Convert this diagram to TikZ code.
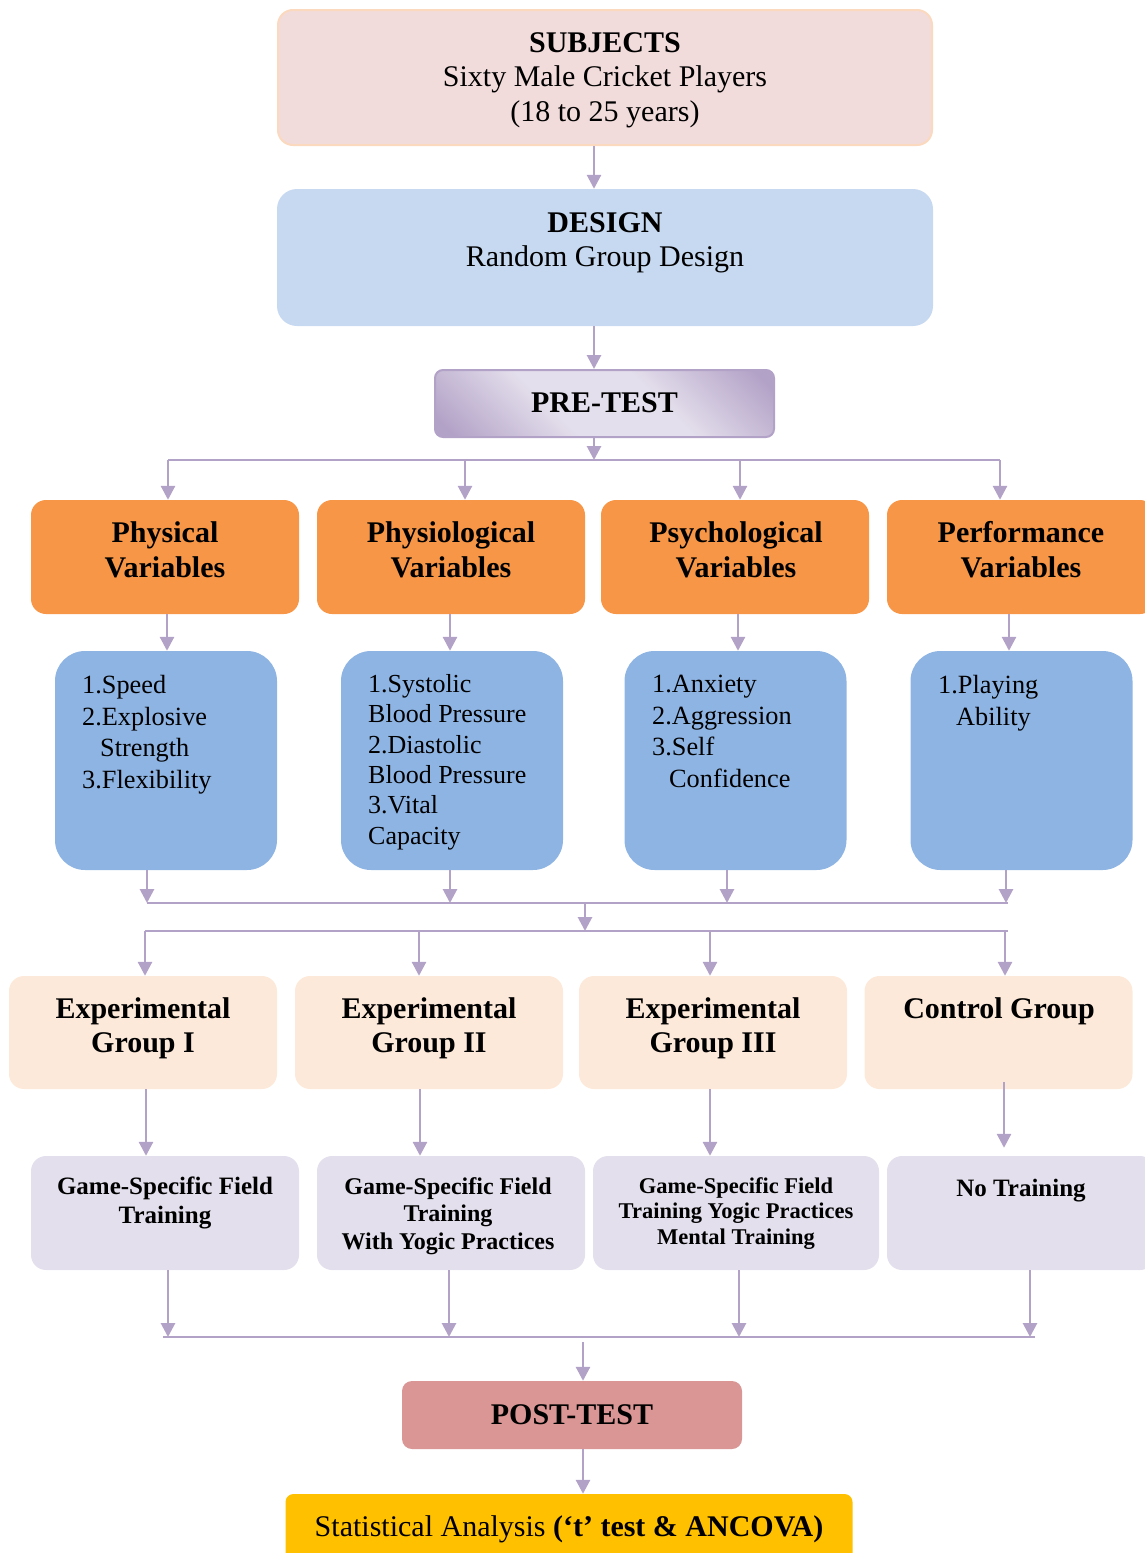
\documentclass[tikz,border=0pt]{standalone}
\usepackage{fontspec}
\setmainfont{Liberation Serif}
\usetikzlibrary{arrows.meta,calc}
\definecolor{lav}{HTML}{B3A2C7}
\definecolor{subjfill}{HTML}{F2DCDB}
\definecolor{subjborder}{HTML}{FBD9BE}
\definecolor{desfill}{HTML}{C6D9F1}
\definecolor{plight}{HTML}{E4DFEC}
\definecolor{pdark}{HTML}{B3A2C7}
\definecolor{orng}{HTML}{F79646}
\definecolor{blu}{HTML}{8EB4E3}
\definecolor{pch}{HTML}{FDE9D9}
\definecolor{lilac}{HTML}{E4DFEC}
\definecolor{rose}{HTML}{D99694}
\definecolor{gold}{HTML}{FFC000}
\pgfdeclarehorizontalshading{preshade}{100bp}{color(0bp)=(pdark); color(18bp)=(pdark); color(40bp)=(plight); color(60bp)=(plight); color(82bp)=(pdark); color(100bp)=(pdark)}
\begin{document}
\begin{tikzpicture}[x=1pt,y=-1pt,
  box/.style={rectangle, rounded corners=15pt, inner sep=0pt, draw=none},
  obox/.style={box, fill=orng, minimum width=268pt, minimum height=114pt},
  bbox/.style={box, rounded corners=30pt, fill=blu, minimum width=222pt, minimum height=219pt},
  pbox/.style={box, fill=pch, minimum width=268pt, minimum height=113pt},
  qbox/.style={box, fill=lilac, minimum height=114pt},
  txt/.style={anchor=north, inner sep=0pt, align=center},
  ltxt/.style={anchor=north west, inner sep=0pt, align=left},
  big/.style={font=\fontsize{30}{34.5}\selectfont},
  bigb/.style={font=\fontsize{30}{35}\selectfont\bfseries},
  med/.style={font=\fontsize{26.3}{31.6}\selectfont},
  ln/.style={draw=lav, line width=2.8pt},
  arr/.style={draw=lav, line width=2.8pt, -{Triangle[width=14pt,length=14pt]}}
]
\useasboundingbox (0,0) rectangle (1144,1553);

% top
\node[box, fill=subjfill, draw=subjborder, line width=2pt, minimum width=654pt, minimum height=135pt] (subj) at (605,77.5) {};
\node[txt, big] (subjT) at (605,32) {\textbf{SUBJECTS}\\Sixty Male Cricket Players\\(18 to 25 years)};
\node[box, rounded corners=20pt, fill=desfill, minimum width=656pt, minimum height=137pt] (des) at (605,257.5) {};
\node[txt, big] (desT) at (605,212) {\textbf{DESIGN}\\Random Group Design};
\node[box, rounded corners=8pt, draw=lav, line width=2pt, shade, shading=preshade, shading angle=45, minimum width=339pt, minimum height=67pt, font=\fontsize{30}{36}\selectfont\bfseries] (pre) at (604.5,403.5) {\raisebox{1.5pt}{PRE-TEST}};

% orange
\node[obox] (o1) at (165,557) {};
\node[obox] (o2) at (451,557) {};
\node[obox] (o3) at (735,557) {};
\node[obox] (o4) at (1021,557) {};
\node[txt, bigb] (o1T) at (165,521) {Physical\\Variables};
\node[txt, bigb] (o2T) at (451,521) {Physiological\\Variables};
\node[txt, bigb] (o3T) at (736,521) {Psychological\\Variables};
\node[txt, bigb] (o4T) at (1021,521) {Performance\\Variables};

% blue
\node[bbox] (b1) at (166,760.5) {};
\node[bbox] (b2) at (452,760.5) {};
\node[bbox] (b3) at (735.5,760.5) {};
\node[bbox] (b4) at (1021.5,760.5) {};
\node[ltxt, med] (b1T) at (82,675) {1.Speed\\2.Explosive\\\hspace*{18pt}Strength\\3.Flexibility};
\node[ltxt, font=\fontsize{26}{30.4}\selectfont] (b2T) at (368,674) {1.Systolic\\Blood Pressure\\2.Diastolic\\Blood Pressure\\3.Vital\\Capacity};
\node[ltxt, med] (b3T) at (652,675) {1.Anxiety\\2.Aggression\\3.Self\\\hspace*{17pt}Confidence};
\node[ltxt, med] (b4T) at (938,675) {1.Playing\\\hspace*{18pt}Ability};

% peach
\node[pbox] (p1) at (143,1032.5) {};
\node[pbox] (p2) at (429,1032.5) {};
\node[pbox] (p3) at (713,1032.5) {};
\node[pbox] (p4) at (998.5,1032.5) {};
\node[txt, font=\fontsize{30}{34}\selectfont\bfseries] (p1T) at (143,997) {Experimental\\Group I};
\node[txt, font=\fontsize{30}{34}\selectfont\bfseries] (p2T) at (429,997) {Experimental\\Group II};
\node[txt, font=\fontsize{30}{34}\selectfont\bfseries] (p3T) at (713,997) {Experimental\\Group III};
\node[txt, font=\fontsize{30}{34}\selectfont\bfseries] (p4T) at (999,997) {Control Group};

% lilac
\node[qbox, minimum width=268pt] (q1) at (165,1213) {};
\node[qbox, minimum width=268pt] (q2) at (451,1213) {};
\node[qbox, minimum width=286pt] (q3) at (736,1213) {};
\node[qbox, minimum width=268pt] (q4) at (1021,1213) {};
\node[txt, font=\fontsize{25}{29}\selectfont\bfseries] (q1T) at (165,1177) {Game-Specific Field\\Training};
\node[txt, font=\fontsize{24}{27.5}\selectfont\bfseries] (q2T) at (448,1177) {Game-Specific Field\\Training\\With Yogic Practices};
\node[txt, font=\fontsize{22.5}{25.5}\selectfont\bfseries] (q3T) at (736,1177) {Game-Specific Field\\Training Yogic Practices\\Mental Training};
\node[txt, font=\fontsize{25}{29}\selectfont\bfseries] (q4T) at (1021,1179) {No Training};

% bottom
\node[box, rounded corners=10pt, fill=rose, minimum width=340pt, minimum height=68pt, font=\fontsize{30}{36}\selectfont\bfseries] (post) at (572,1415) {POST-TEST};
\node[box, rounded corners=8pt, fill=gold, minimum width=567pt, minimum height=70pt, font=\fontsize{30}{36}\selectfont] (stat) at (569,1529) {Statistical Analysis \textbf{(`t' test \& ANCOVA)}};

% connectors top
\draw[arr] ($(subj.south)+(-11,0)$) -- ($(des.north)+(-11,0)$);
\draw[arr] ($(des.south)+(-11,0)$) -- ($(pre.north)+(-10.5,0)$);
\coordinate (bus1) at (594,460);
\coordinate (t1) at (168,460);
\coordinate (t2) at (465,460);
\coordinate (t3) at (740,460);
\coordinate (t4) at (1000,460);
\draw[arr] ($(pre.south)+(-10.5,0)$) -- (bus1);
\draw[ln] (t1) -- (t4);
\draw[arr] (t1) -- ($(o1.north)+(3,0)$);
\draw[arr] (t2) -- ($(o2.north)+(14,0)$);
\draw[arr] (t3) -- ($(o3.north)+(5,0)$);
\draw[arr] (t4) -- ($(o4.north)+(-21,0)$);

% orange to blue
\draw[arr] ($(o1.south)+(2,0)$) -- ($(b1.north)+(1,0)$);
\draw[arr] ($(o2.south)+(-1,0)$) -- ($(b2.north)+(-2,0)$);
\draw[arr] ($(o3.south)+(3,0)$) -- ($(b3.north)+(2.5,0)$);
\draw[arr] ($(o4.south)+(-12,0)$) -- ($(b4.north)+(-12.5,0)$);

% blue to bus2
\coordinate (c1) at (147,903);
\coordinate (c2) at (450,903);
\coordinate (c3) at (727,903);
\coordinate (c4) at (1006,903);
\coordinate (c5) at (1008,903);
\coordinate (m2) at (585,903);
\draw[arr] ($(b1.south)+(-19,0)$) -- (c1);
\draw[arr] ($(b2.south)+(-2,0)$) -- (c2);
\draw[arr] ($(b3.south)+(-8.5,0)$) -- (c3);
\draw[arr] ($(b4.south)+(-15.5,0)$) -- (c4);
\draw[ln] (c1) -- (c5);

% bus3
\coordinate (m3) at (585,931);
\coordinate (d1) at (145,931);
\coordinate (d2) at (419,931);
\coordinate (d3) at (710,931);
\coordinate (d4) at (1005,931);
\coordinate (d5) at (1008,931);
\draw[arr] (m2) -- (m3);
\draw[ln] (d1) -- (d5);
\draw[arr] (d1) -- ($(p1.north)+(2,0)$);
\draw[arr] (d2) -- ($(p2.north)+(-10,0)$);
\draw[arr] (d3) -- ($(p3.north)+(-3,0)$);
\draw[arr] (d4) -- ($(p4.north)+(6.5,0)$);

% peach to lilac
\draw[arr] ($(p1.south)+(3,0)$) -- ($(q1.north)+(-19,0)$);
\draw[arr] ($(p2.south)+(-9,0)$) -- ($(q2.north)+(-31,0)$);
\draw[arr] ($(p3.south)+(-3,0)$) -- ($(q3.north)+(-26,0)$);
\draw[arr] ($(p4.south)+(5.5,-7)$) -- ($(q4.north)+(-17,-8)$);

% lilac to bus4
\coordinate (e0) at (163,1337);
\coordinate (e1) at (168,1337);
\coordinate (e2) at (449,1337);
\coordinate (e3) at (739,1337);
\coordinate (e4) at (1030,1337);
\coordinate (e5) at (1035,1337);
\coordinate (f) at (583,1342);
\draw[arr] ($(q1.south)+(3,0)$) -- (e1);
\draw[arr] ($(q2.south)+(-2,0)$) -- (e2);
\draw[arr] ($(q3.south)+(3,0)$) -- (e3);
\draw[arr] ($(q4.south)+(9,0)$) -- (e4);
\draw[ln] (e0) -- (e5);
\draw[arr] (f) -- ($(post.north)+(11,0)$);
\draw[arr] ($(post.south)+(11,0)$) -- ($(stat.north)+(14,0)$);
\end{tikzpicture}
\end{document}
